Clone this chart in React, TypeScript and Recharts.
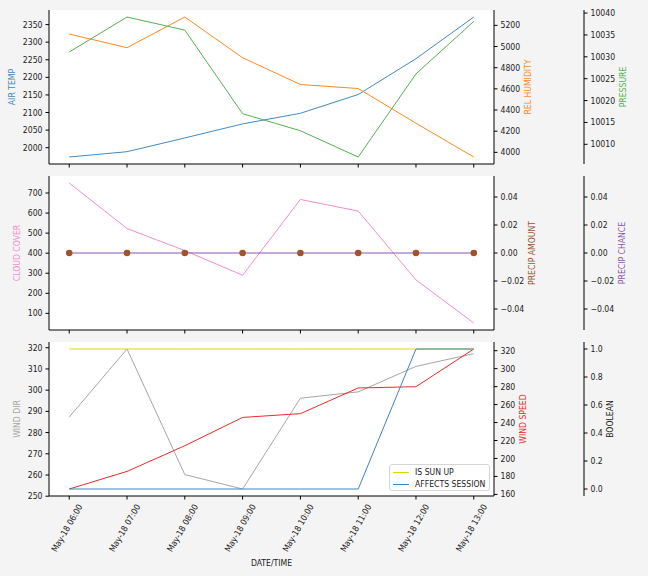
import React from 'react';
import { LineChart, Line, XAxis, YAxis, CartesianGrid, Legend } from 'recharts';

const timeLabels = [
  'May-18 06:00',
  'May-18 07:00',
  'May-18 08:00',
  'May-18 09:00',
  'May-18 10:00',
  'May-18 11:00',
  'May-18 12:00',
  'May-18 13:00',
];

// top panel
const airTemp = [1973.5, 1988.6, 2027.7, 2067.6, 2097.8, 2151.2, 2253, 2371.6];
const relHumidity = [5118, 4989, 5279, 4894, 4641, 4603, 4275, 3956];
const pressure = [10031.1, 10039.1, 10036.1, 10017.0, 10013.1, 10007.1, 10026.1, 10038.1];

// middle panel
const cloudCover = [750, 523, 413, 290, 668, 610, 267, 52];
const precipAmount = [0, 0, 0, 0, 0, 0, 0, 0];
const precipChance = [0, 0, 0, 0, 0, 0, 0, 0];

// bottom panel
const windDir = [287.3, 319.4, 260.2, 253.4, 296.2, 299.2, 311.2, 317.2];
const windSpeed = [166, 185.6, 214.2, 245.7, 249.9, 278.5, 279.9, 321.9];
const isSunUp = [1, 1, 1, 1, 1, 1, 1, 1];
const affectsSession = [0, 0, 0, 0, 0, 0, 1, 1];

const tempTicks = [2000, 2050, 2100, 2150, 2200, 2250, 2300, 2350];
const humidityTicks = [4000, 4200, 4400, 4600, 4800, 5000, 5200];
const pressureTicks = [10010, 10015, 10020, 10025, 10030, 10035, 10040];
const cloudTicks = [100, 200, 300, 400, 500, 600, 700];
const precipTicks = [-0.04, -0.02, 0, 0.02, 0.04];
const windDirTicks = [250, 260, 270, 280, 290, 300, 310, 320];
const windSpeedTicks = [160, 180, 200, 220, 240, 260, 280, 300, 320];
const boolTicks = [0, 0.2, 0.4, 0.6, 0.8, 1.0];

const legendOrder = ['isSunUp', 'affectsSession'];

const COLORS = {
  temp: '#3f8ac6',
  humidity: '#ff8a1c',
  pressure: '#55b150',
  cloud: '#f28dcf',
  precipAmount: '#a0522d',
  precipChance: '#8e55ad',
  windDir: '#a6a6a6',
  windSpeed: '#ec2a2a',
  sunUp: '#d9d900',
  session: '#3f84c0',
};

const FONT = "'DejaVu Sans Condensed', 'Liberation Sans', sans-serif";
const FS = 8.6;
const TICK = { fill: '#222', fontSize: FS };
const X_DOMAIN: [number, number] = [-0.35, timeLabels.length - 1 + 0.35];
const xTicks = timeLabels.map((_, i) => i);

const padded = (vals: number[]): [number, number] => {
  const lo = Math.min(...vals);
  const hi = Math.max(...vals);
  const m = (hi - lo) * 0.05;
  return [lo - m, hi + m];
};

const rows = timeLabels.map((t, i) => ({
  x: i,
  airTemp: airTemp[i],
  relHumidity: relHumidity[i],
  pressure: pressure[i],
  cloudCover: cloudCover[i],
  precipAmount: precipAmount[i],
  precipChance: precipChance[i],
  windDir: windDir[i],
  windSpeed: windSpeed[i],
  isSunUp: isSunUp[i],
  affectsSession: affectsSession[i],
}));

const yLabel = (value: string, color: string, offset: number) => ({
  value,
  angle: -90,
  position: 'insideLeft' as const,
  offset,
  style: { textAnchor: 'middle', fill: color, fontSize: FS },
});

const axisCommon = {
  stroke: '#000',
  tickSize: 3.5,
  tickMargin: 3,
  interval: 0 as const,
  allowDataOverflow: true,
  tick: TICK,
};

const minusFmt = (d: number) => (v: number) => v.toFixed(d).replace('-', '\u2212');

const NoTick = () => <g />;

const DateTick = ({ x, y, payload }: any) => (
  <text
    x={0}
    y={0}
    transform={`translate(${x - 2.3},${y + 25.5}) rotate(-60)`}
    textAnchor="middle"
    dominantBaseline="central"
    fontSize={FS}
    fill="#222"
  >
    {timeLabels[payload.value]}
  </text>
);

const SessionLegend = ({ payload }: any) => {
  const items = legendOrder
    .map((k) => (payload || []).find((p: any) => p.dataKey === k))
    .filter(Boolean);
  return (
    <div
      style={{
        width: 101,
        height: 27,
        boxSizing: 'border-box',
        border: '1px solid #d6d6d6',
        borderRadius: 3,
        background: 'rgba(255,255,255,0.85)',
        padding: '2px 0 0 3px',
        fontSize: FS,
        color: '#222',
        lineHeight: '11.5px',
        whiteSpace: 'nowrap',
      }}
    >
      {items.map((it: any) => (
        <div key={it.dataKey} style={{ display: 'flex', alignItems: 'center', height: 11.5 }}>
          <span
            style={{
              display: 'inline-block',
              width: 16,
              height: 0,
              borderTop: `1.3px solid ${it.color}`,
              marginRight: 6,
            }}
          />
          {it.value}
        </div>
      ))}
    </div>
  );
};

const frameAxes = (showDates: boolean, xHeight: number) => [
  <XAxis
    key="top"
    xAxisId="top"
    orientation="top"
    type="number"
    dataKey="x"
    domain={X_DOMAIN}
    allowDataOverflow
    height={0}
    tick={false}
    tickLine={false}
    stroke="#000"
  />,
  <XAxis
    key="b"
    xAxisId="b"
    type="number"
    dataKey="x"
    domain={X_DOMAIN}
    ticks={xTicks}
    height={xHeight}
    {...axisCommon}
    tick={showDates ? DateTick : NoTick}
    label={
      showDates
        ? { value: 'DATE/TIME', position: 'insideBottom', offset: 10, style: { fill: '#222', fontSize: FS } }
        : undefined
    }
  />,
];

export default function App() {
  return (
    <div
      style={{
        position: 'absolute',
        left: 0,
        top: 0,
        width: 648,
        height: 576,
        background: '#f4f4f4',
        fontFamily: FONT,
      }}
    >
      {/* temperature / humidity / pressure */}
      <div style={{ position: 'absolute', left: 0, top: 0 }}>
        <LineChart width={648} height={170} data={rows} margin={{ top: 10, right: 0, bottom: 0, left: 0 }}>
          {frameAxes(false, 6)}
          <YAxis
            yAxisId="L"
            orientation="left"
            width={49}
            domain={padded(airTemp)}
            ticks={tempTicks}
            {...axisCommon}
            label={yLabel('AIR TEMP', COLORS.temp, 12)}
          />
          <YAxis
            yAxisId="R1"
            orientation="right"
            width={90}
            domain={padded(relHumidity)}
            ticks={humidityTicks}
            {...axisCommon}
            label={yLabel('REL HUMIDITY', COLORS.humidity, 34)}
          />
          <YAxis
            yAxisId="R2"
            orientation="right"
            width={64}
            domain={padded(pressure)}
            ticks={pressureTicks}
            {...axisCommon}
            label={yLabel('PRESSURE', COLORS.pressure, 38.5)}
          />
          <CartesianGrid xAxisId="b" yAxisId="L" fill="#fff" stroke="none" horizontal={false} vertical={false} />
          <Line xAxisId="b" yAxisId="L" dataKey="airTemp" name="AIR TEMP" stroke={COLORS.temp} strokeWidth={1} dot={false} activeDot={false} isAnimationActive={false} />
          <Line xAxisId="b" yAxisId="R1" dataKey="relHumidity" name="REL HUMIDITY" stroke={COLORS.humidity} strokeWidth={1} dot={false} activeDot={false} isAnimationActive={false} />
          <Line xAxisId="b" yAxisId="R2" dataKey="pressure" name="PRESSURE" stroke={COLORS.pressure} strokeWidth={1} dot={false} activeDot={false} isAnimationActive={false} />
        </LineChart>
      </div>

      {/* cloud / precipitation */}
      <div style={{ position: 'absolute', left: 0, top: 170 }}>
        <LineChart width={648} height={166} data={rows} margin={{ top: 6, right: 0, bottom: 0, left: 0 }}>
          {frameAxes(false, 6)}
          <YAxis
            yAxisId="L"
            orientation="left"
            width={49}
            domain={padded(cloudCover)}
            ticks={cloudTicks}
            {...axisCommon}
            label={yLabel('CLOUD COVER', COLORS.cloud, 16.5)}
          />
          <YAxis
            yAxisId="R1"
            orientation="right"
            width={90}
            domain={[-0.055, 0.055]}
            ticks={precipTicks}
            tickFormatter={minusFmt(2)}
            {...axisCommon}
            label={yLabel('PRECIP AMOUNT', COLORS.precipAmount, 38)}
          />
          <YAxis
            yAxisId="R2"
            orientation="right"
            width={64}
            domain={[-0.055, 0.055]}
            ticks={precipTicks}
            tickFormatter={minusFmt(2)}
            {...axisCommon}
            label={yLabel('PRECIP CHANCE', COLORS.precipChance, 37.5)}
          />
          <CartesianGrid xAxisId="b" yAxisId="L" fill="#fff" stroke="none" horizontal={false} vertical={false} />
          <Line xAxisId="b" yAxisId="L" dataKey="cloudCover" name="CLOUD COVER" stroke={COLORS.cloud} strokeWidth={1} dot={false} activeDot={false} isAnimationActive={false} />
          <Line xAxisId="b" yAxisId="R2" dataKey="precipChance" name="PRECIP CHANCE" stroke={COLORS.precipChance} strokeWidth={1.2} dot={false} activeDot={false} isAnimationActive={false} />
          <Line
            xAxisId="b"
            yAxisId="R1"
            dataKey="precipAmount"
            name="PRECIP AMOUNT"
            stroke="none"
            dot={{ r: 3.3, fill: COLORS.precipAmount, stroke: COLORS.precipAmount, strokeWidth: 0 }}
            activeDot={false}
            isAnimationActive={false}
          />
        </LineChart>
      </div>

      {/* wind / booleans */}
      <div style={{ position: 'absolute', left: 0, top: 336 }}>
        <LineChart width={648} height={240} data={rows} margin={{ top: 6, right: 0, bottom: 0, left: 0 }}>
          {frameAxes(true, 80)}
          <YAxis
            yAxisId="L"
            orientation="left"
            width={49}
            domain={padded(windDir)}
            ticks={windDirTicks}
            {...axisCommon}
            label={yLabel('WIND DIR', COLORS.windDir, 16.5)}
          />
          <YAxis
            yAxisId="R1"
            orientation="right"
            width={90}
            domain={padded(windSpeed)}
            ticks={windSpeedTicks}
            {...axisCommon}
            label={yLabel('WIND SPEED', COLORS.windSpeed, 29)}
          />
          <YAxis
            yAxisId="R2"
            orientation="right"
            width={64}
            domain={[-0.05, 1.05]}
            ticks={boolTicks}
            tickFormatter={minusFmt(1)}
            {...axisCommon}
            label={yLabel('BOOLEAN', '#222', 26)}
          />
          <CartesianGrid xAxisId="b" yAxisId="L" fill="#fff" stroke="none" horizontal={false} vertical={false} />
          <Line xAxisId="b" yAxisId="L" dataKey="windDir" name="WIND DIR" legendType="none" stroke={COLORS.windDir} strokeWidth={1} dot={false} activeDot={false} isAnimationActive={false} />
          <Line xAxisId="b" yAxisId="R1" dataKey="windSpeed" name="WIND SPEED" legendType="none" stroke={COLORS.windSpeed} strokeWidth={1} dot={false} activeDot={false} isAnimationActive={false} />
          <Line xAxisId="b" yAxisId="R2" dataKey="isSunUp" name="IS SUN UP" stroke={COLORS.sunUp} strokeWidth={1} dot={false} activeDot={false} isAnimationActive={false} />
          <Line xAxisId="b" yAxisId="R2" dataKey="affectsSession" name="AFFECTS SESSION" stroke={COLORS.session} strokeWidth={1} dot={false} activeDot={false} isAnimationActive={false} />
          <Legend
            layout="vertical"
            align="center"
            verticalAlign="middle"
            wrapperStyle={{ left: 389, top: 128 }}
            content={SessionLegend}
          />
        </LineChart>
      </div>
    </div>
  );
}
